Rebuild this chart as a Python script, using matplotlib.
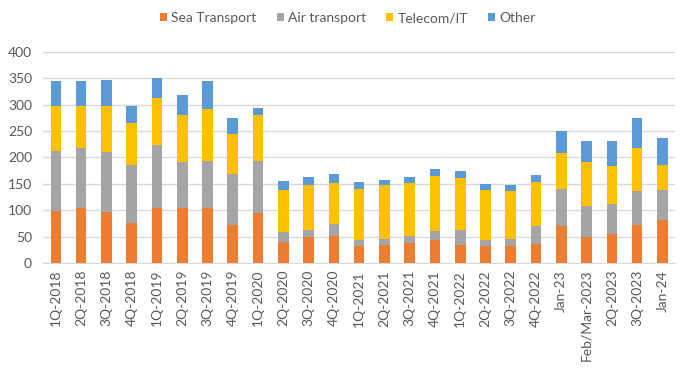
import matplotlib.pyplot as plt
import numpy as np

plt.rcParams['font.family'] = ['Lato', 'DejaVu Sans']

categories = ["1Q-2018", "2Q-2018", "3Q-2018", "4Q-2018", "1Q-2019", "2Q-2019", "3Q-2019",
              "4Q-2019", "1Q-2020", "2Q-2020", "3Q-2020", "4Q-2020", "1Q-2021", "2Q-2021",
              "3Q-2021", "4Q-2021", "1Q-2022", "2Q-2022", "3Q-2022", "4Q-2022", "Jan-23",
              "Feb/Mar-2023", "2Q-2023", "3Q-2023", "Jan-24"]

sea = [99, 104, 97, 75, 104, 104, 104, 72, 94, 40, 49, 51, 32, 34, 38, 44, 34,
       32, 32, 36, 70, 49, 55, 72, 82]
air = [114, 114, 114, 111, 120, 88, 90, 97, 100, 19, 14, 23, 12, 12, 13, 17, 29,
       12, 14, 34, 71, 59, 57, 65, 57]
telecom = [85, 80, 87, 80, 89, 89, 97, 76, 87, 80, 85, 78, 97, 101, 101, 103, 99,
           95, 91, 84, 68, 84, 72, 81, 47]
other = [46, 46, 48, 32, 38, 38, 53, 30, 13, 17, 15, 17, 13, 11, 11, 15, 13,
         11, 11, 13, 42, 40, 48, 57, 51]

series = [("Sea Transport", sea, "#ED7D31"),
          ("Air transport", air, "#A5A5A5"),
          ("Telecom/IT", telecom, "#FFC000"),
          ("Other", other, "#5B9BD5")]

fig = plt.figure(figsize=(6.86, 3.71), dpi=100)
ax = fig.add_axes([0.063, 0.291, 0.921, 0.569])

x = np.arange(len(categories))
bottom = np.zeros(len(categories))
for name, vals, col in series:
    ax.bar(x, vals, 0.42, bottom=bottom, color=col, label=name, zorder=3)
    bottom += np.array(vals)

ax.set_ylim(0, 400)
ax.set_xlim(-0.5, len(categories) - 0.5)
ax.set_yticks(range(0, 401, 50))
ax.yaxis.grid(True, color="#D9D9D9", linewidth=1, zorder=0)
ax.set_xticks(x)
ax.set_xticklabels(categories, rotation=90)
ax.tick_params(axis='both', length=0, labelsize=10, labelcolor="#595959")
ax.tick_params(axis='y', pad=8)
ax.tick_params(axis='x', pad=5)
for s in ["top", "right", "left"]:
    ax.spines[s].set_visible(False)
ax.spines["bottom"].set_color("#D9D9D9")

fig.legend(loc="center", bbox_to_anchor=(0.507, 0.951), ncol=4, frameon=False,
           fontsize=10, handlelength=0.5, handleheight=0.5, handletextpad=0.3,
           columnspacing=1.45, labelcolor="#595959")

fig.savefig("out.png", dpi=100)
